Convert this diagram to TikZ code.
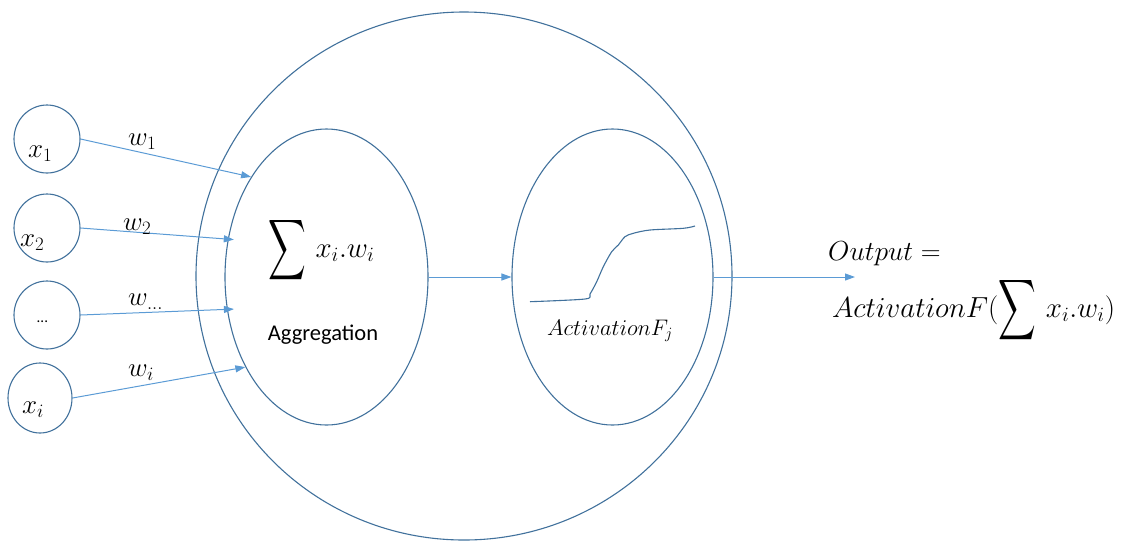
\RequirePackage{fix-cm}
\documentclass[tikz,border=0pt]{standalone}
\usepackage{exscale}
\usepackage{fontspec}
\usepackage{graphicx}
\newfontfamily\calib{Carlito}
\usetikzlibrary{shapes.geometric,arrows.meta}
\definecolor{rim}{RGB}{65,113,156}
\definecolor{wire}{RGB}{91,155,213}
% a tall summation sign, centred on the math axis
\newcommand{\tallsum}{\mathop{\vcenter{\hbox{\scalebox{1.05}[1.7]{$\displaystyle\sum$}}}}}
\begin{document}
\begin{tikzpicture}[x=1pt,y=-1pt,
  unit/.style={draw=rim, line width=1.1pt, ellipse, inner sep=0pt},
  inp/.style={unit, minimum width=66pt, minimum height=68pt},
  link/.style={draw=wire, line width=1pt, -{Triangle[length=10pt,width=7pt]}},
  txt/.style={inner sep=0pt, anchor=base west, text=black},
  mth/.style={txt, font=\fontsize{27}{30}\selectfont},
  ]
\useasboundingbox (0,0) rectangle (1130,542);

% neuron body and its two stages
\node[unit, minimum width=536pt, minimum height=528pt] (cell) at (464,276) {};
\node[unit, minimum width=203pt, minimum height=296pt] (agg) at (326.5,277) {};
\node[unit, minimum width=201pt, minimum height=296pt] (act) at (612.5,277) {};

% inputs
\node[inp] (x1) at (47,139) {};
\node[inp] (x2) at (47,228) {};
\node[inp] (xd) at (47,315) {};
\node[inp, minimum width=64pt, minimum height=70pt] (xi) at (40,398) {};

\node[mth] (x1t) at (28,157) {$x_1$};
\node[mth] (x2t) at (20,246.5) {$x_2$};
\node[txt, font=\calib\fontsize{15}{15}\selectfont] (xdt) at (36.5,322) {...};
\node[mth] (xit) at (22,413) {$x_i$};

% weighted connections
\draw[link] (x1.east) -- (agg.127.6);
\draw[link, shorten >=-6pt] (x2.east) -- (agg.159.3);
\draw[link, shorten >=-7pt] (xd.east) -- (agg.198.2);
\draw[link] (xi.east) -- (agg.228.2);

\node[mth] (w1) at (128,145) {$w_1$};
\node[mth] (w2) at (123,230) {$w_2$};
\node[mth] (wd) at (128,305) {$w_{\ldots}$};
\node[mth] (wi) at (128,376.5) {$w_i$};

% aggregation stage
\node[txt, font=\fontsize{29}{32}\selectfont] (sum) at (268,257) {$\tallsum\, x_i.w_i$};
\node[inner sep=0pt, anchor=base, font=\calib\fontsize{22.5}{24}\selectfont] (aggt) at (323,340) {Aggregation};

% activation stage
\draw[rim, line width=1.1pt] plot[smooth, tension=0.5] coordinates
  {(530,301.7) (585,299) (590,294) (596.7,281.7) (603.3,266.7) (611.7,251.7)
   (618.3,245) (625,236.7) (633.3,233.3) (650,230) (683.3,228.3) (695,226)};
\node[txt, font=\fontsize{22.5}{24}\selectfont] (actt) at (547,335) {$ActivationF_j$};

\draw[link] (agg.east) -- (act.west);

% output
\coordinate (out) at (855,277);
\draw[link] (act.east) -- (out);
\node[txt, font=\fontsize{27.5}{30}\selectfont] (o1) at (828,260) {$Output =$};
\node[txt, font=\fontsize{29}{32}\selectfont] (o2) at (832,317) {$ActivationF(\tallsum\, x_i.w_i)$};
\end{tikzpicture}
\end{document}
